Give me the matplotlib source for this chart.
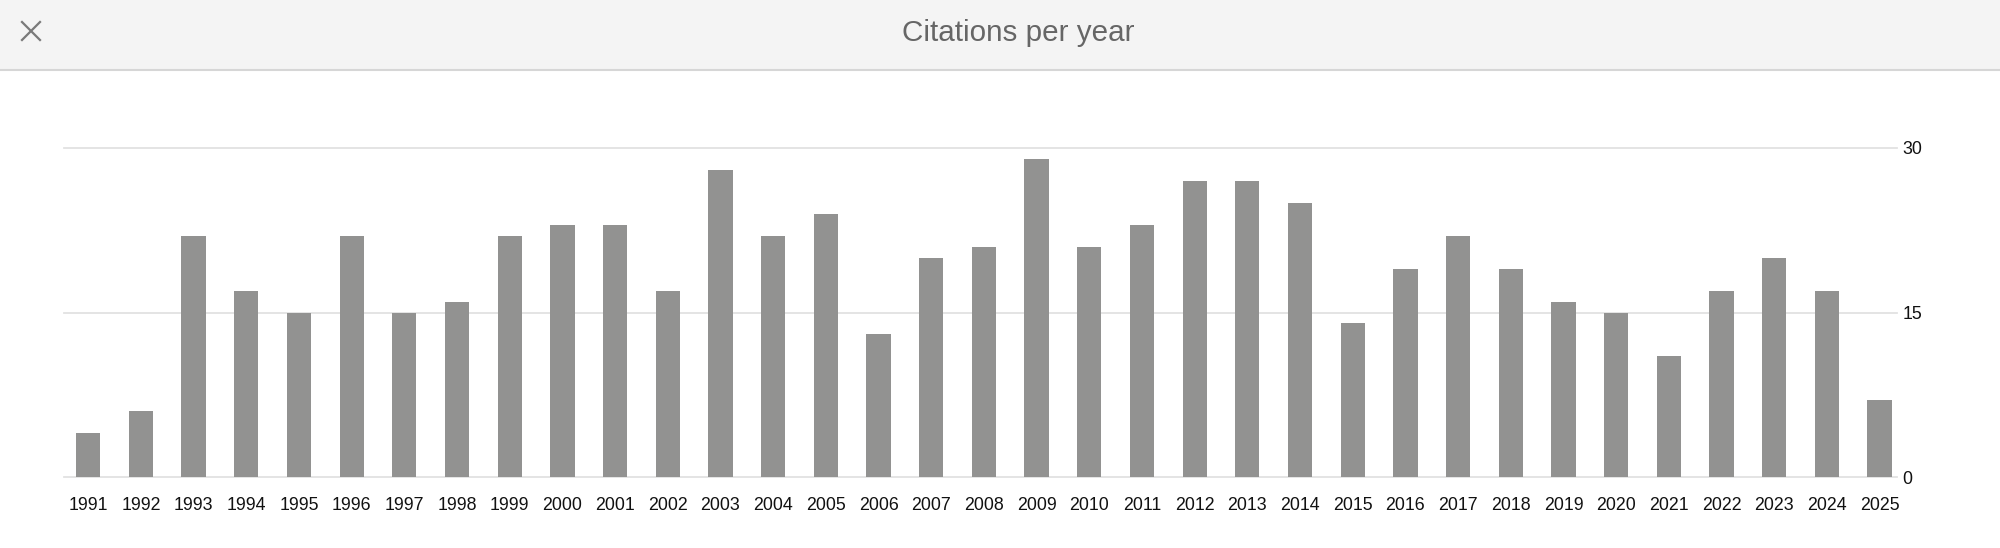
import matplotlib.pyplot as plt
from matplotlib.patches import Rectangle
from matplotlib.lines import Line2D

years = list(range(1991, 2026))
citations = [4, 6, 22, 17, 15, 22, 15, 16, 22, 23, 23, 17, 28, 22, 24, 13,
             20, 21, 29, 21, 23, 27, 27, 25, 14, 19, 22, 19, 16, 15, 11, 17,
             20, 17, 7]
y_ticks = [0, 15, 30]
title = "Citations per year"

plt.rcParams['font.family'] = ['Liberation Sans', 'DejaVu Sans']

W, H = 2000, 548
fig = plt.figure(figsize=(W / 100, H / 100), dpi=100)
fig.patch.set_facecolor('white')

# header band
fig.patches.append(Rectangle((0, 1 - 70 / H), 1, 70 / H, transform=fig.transFigure,
                             facecolor='#f4f4f4', edgecolor='none', zorder=0))
fig.lines.append(Line2D([0, 1], [1 - 70 / H, 1 - 70 / H], transform=fig.transFigure,
                        color='#d6d6d6', linewidth=1.5))
# close "X"
x0, x1 = 22 / W, 40 / W
y0, y1 = 1 - 22 / H, 1 - 40 / H
fig.lines.append(Line2D([x0, x1], [y0, y1], transform=fig.transFigure,
                        color='#7a7a7a', linewidth=1.6))
fig.lines.append(Line2D([x0, x1], [y1, y0], transform=fig.transFigure,
                        color='#7a7a7a', linewidth=1.6))
fig.text(0.509, 1 - 33 / H, title, ha='center', va='center',
         fontsize=21.3, color='#666666')

left, right = 64 / W, 1897 / W
bottom, top = (H - 477) / H, (H - 148) / H
ax = fig.add_axes([left, bottom, right - left, top - bottom])

pos = list(range(len(years)))
ax.bar(pos, citations, width=0.46, color='#929291', zorder=2)
ax.set_xlim(-0.46, len(years) - 1 + 0.33)
ax.set_ylim(0, 30)
ax.set_xticks(pos)
ax.set_xticklabels([str(y) for y in years], fontsize=12.8, color='#111111')
ax.set_yticks(y_ticks)
ax.set_yticklabels([str(v) for v in y_ticks], fontsize=12.8, color='#111111')
ax.yaxis.tick_right()
ax.tick_params(axis='x', length=0, pad=14.5)
ax.tick_params(axis='y', length=0, pad=4)
for v in y_ticks:
    ax.axhline(v, color='#e2e2e2', linewidth=1.3, zorder=1, clip_on=False)
for s in ax.spines.values():
    s.set_visible(False)
ax.set_facecolor('none')

fig.savefig('out.png', dpi=100)
